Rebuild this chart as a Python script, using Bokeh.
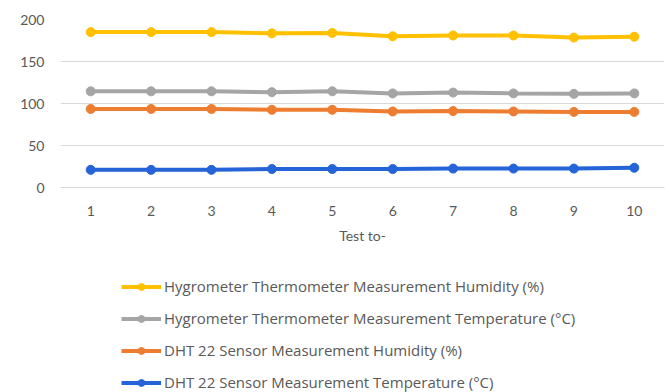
from bokeh.plotting import figure
from bokeh.layouts import column
from bokeh.models import Range1d, FixedTicker, Legend, LegendItem
from bokeh.embed import file_html
from bokeh.resources import INLINE

tests = [1, 2, 3, 4, 5, 6, 7, 8, 9, 10]
hygro_humidity = [185, 185, 185, 183.5, 184, 180, 181, 181, 178.5, 179.5]
hygro_temperature = [114.5, 114.5, 114.5, 113.5, 114.5, 112, 113, 112, 111.5, 112]
dht_humidity = [93.5, 93.5, 93.5, 92.5, 92.5, 90.5, 91, 90.5, 90, 90]
dht_temperature = [21, 21, 21, 22, 22, 22, 22.5, 22.5, 22.5, 23.5]

series = [
    ("Hygrometer Thermometer Measurement Humidity (%)", hygro_humidity, "#FFC000"),
    ("Hygrometer Thermometer Measurement Temperature (°C)", hygro_temperature, "#A5A5A5"),
    ("DHT 22 Sensor Measurement Humidity (%)", dht_humidity, "#ED7D31"),
    ("DHT 22 Sensor Measurement Temperature (°C)", dht_temperature, "#2563D8"),
]

FONT = "Lato"
LFONT = "Open Sans"
TXT = "#595959"

p = figure(width=669, height=258, output_backend="svg", toolbar_location=None,
           x_range=Range1d(0.5, 10.5), y_range=Range1d(0, 200),
           min_border_left=60, min_border_right=5, min_border_top=19,
           min_border_bottom=71)
p.outline_line_color = None
p.background_fill_color = "white"
p.border_fill_color = "white"

p.xgrid.grid_line_color = None
p.ygrid.grid_line_color = "#D9D9D9"
p.ygrid.grid_line_width = 1

p.yaxis.ticker = FixedTicker(ticks=[0, 50, 100, 150, 200])
p.yaxis.axis_line_color = None
p.yaxis.major_tick_line_color = None
p.yaxis.minor_tick_line_color = None
p.yaxis.major_label_text_font = FONT
p.yaxis.major_label_text_font_size = "14px"
p.yaxis.major_label_text_color = TXT
p.yaxis.major_label_standoff = 10

p.xaxis.ticker = FixedTicker(ticks=tests)
p.xaxis.axis_line_color = "#D9D9D9"
p.xaxis.major_tick_line_color = None
p.xaxis.minor_tick_line_color = None
p.xaxis.major_label_text_font = FONT
p.xaxis.major_label_text_font_size = "14px"
p.xaxis.major_label_text_color = TXT
p.xaxis.major_label_standoff = 12
p.xaxis.axis_label = "Test to-"
p.xaxis.axis_label_text_font = FONT
p.xaxis.axis_label_text_font_size = "14px"
p.xaxis.axis_label_text_font_style = "normal"
p.xaxis.axis_label_text_color = TXT
p.xaxis.axis_label_standoff = 8

# legend panel as a separate figure below (series drawn out of view, only legend shows)
lg = figure(width=669, height=134, output_backend="svg", toolbar_location=None,
            x_axis_type=None, y_axis_type=None,
            x_range=Range1d(1000, 1001), y_range=Range1d(1000, 1001),
            min_border=0)
lg.outline_line_color = None
lg.grid.visible = False

items = []
for name, vals, color in series:
    p.line(tests, vals, line_color=color, line_width=4)
    p.scatter(tests, vals, size=9, fill_color=color, line_color=color)
    r1 = lg.line(tests, vals, line_color=color, line_width=4)
    r2 = lg.scatter(tests, vals, size=8, fill_color=color, line_color=color)
    items.append(LegendItem(label=name, renderers=[r1, r2]))

legend = Legend(items=items, orientation="vertical", location=(61, 0),
                label_text_font=LFONT, label_text_font_size="15px",
                label_text_color=TXT, glyph_width=40, glyph_height=17,
                label_height=17, spacing=12, padding=0, margin=0,
                label_standoff=3, border_line_color=None,
                background_fill_alpha=0)
lg.add_layout(legend, "center")

layout = column(p, lg, spacing=0)
open("out.html", "w").write(file_html(layout, INLINE))
